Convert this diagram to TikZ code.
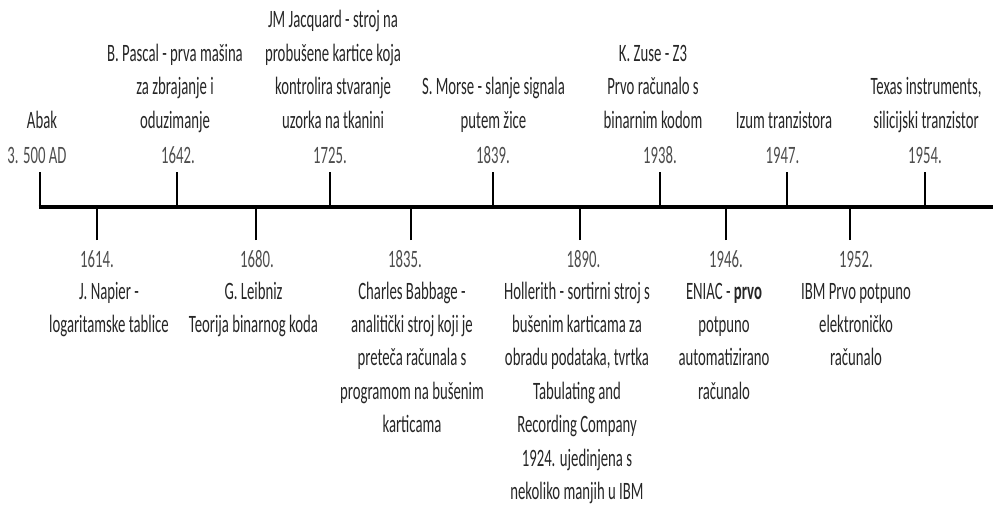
\documentclass[tikz,border=0pt]{standalone}
\usepackage{fontspec}
\setmainfont{Carlito}[FakeStretch=0.59]
\definecolor{txt}{HTML}{262626}
\definecolor{yr}{HTML}{4D4D4D}
\begin{document}
\begin{tikzpicture}[x=1pt,y=-1pt,
  lbl/.style={font=\fontsize{25}{33.4}\selectfont, text=txt, align=center, inner sep=0pt, anchor=base},
  yearlbl/.style={lbl, text=yr},
  tickline/.style={line width=2pt},
  axisline/.style={line width=3.3pt}]
\useasboundingbox (0,0) rectangle (993,506);
% axis
\coordinate (L) at (38.5,207);
\coordinate (R) at (993,207);
\draw[axisline] (L) -- (R);
% upper events (base = baseline of last line)
\node[yearlbl] (y1) at (37,163) {3. 500 AD};
\node[lbl] (e1) at (42,128) {Abak};
\node[yearlbl] (y2) at (178,163) {1642.};
\node[lbl] (e2) at (175,128) {B. Pascal - prva mašina\\za zbrajanje i\\oduzimanje};
\node[yearlbl] (y3) at (330,163) {1725.};
\node[lbl] (e3) at (333,128) {JM Jacquard - stroj na\\probušene kartice koja\\kontrolira stvaranje\\uzorka na tkanini};
\node[yearlbl] (y4) at (493,163) {1839.};
\node[lbl] (e4) at (493.5,128) {S. Morse - slanje signala\\putem žice};
\node[yearlbl] (y5) at (660,163) {1938.};
\node[lbl] (e5) at (653,128) {K. Zuse - Z3\\Prvo računalo s\\binarnim kodom};
\node[yearlbl] (y6) at (782.5,163) {1947.};
\node[lbl] (e6) at (784,128) {Izum tranzistora};
\node[yearlbl] (y7) at (925,163) {1954.};
\node[lbl] (e7) at (926,128) {Texas instruments,\\silicijski tranzistor};
% upper ticks
\foreach \i/\x in {1/40,2/177,3/330,4/493,5/660,6/787,7/925}{
  \coordinate (u\i) at (\x,172);
  \draw[tickline] (u\i) -- (u\i |- L);
}
% lower events (base = baseline of last line)
\node[yearlbl] (z1) at (97,267) {1614.};
\node[lbl] (f1) at (109,332.4) {J. Napier -\\logaritamske tablice};
\node[yearlbl] (z2) at (257,267) {1680.};
\node[lbl] (f2) at (253.5,332.4) {G. Leibniz\\Teorija binarnog koda};
\node[yearlbl] (z3) at (405,267) {1835.};
\node[lbl] (f3) at (412,432.6) {Charles Babbage -\\analitički stroj koji je\\preteča računala s\\programom na bušenim\\karticama};
\node[yearlbl] (z4) at (583.5,267) {1890.};
\node[lbl] (f4) at (577,499.4) {Hollerith - sortirni stroj s\\bušenim karticama za\\obradu podataka, tvrtka\\Tabulating and\\Recording Company\\1924. ujedinjena s\\nekoliko manjih u IBM};
\node[yearlbl] (z5) at (726,267) {1946.};
\node[lbl] (f5) at (724,399.2) {ENIAC - \textbf{prvo}\\potpuno\\automatizirano\\računalo};
\node[yearlbl] (z6) at (856,267) {1952.};
\node[lbl] (f6) at (856,365.8) {IBM Prvo potpuno\\elektroničko\\računalo};
% lower ticks
\foreach \i/\x in {1/97,2/256,3/411,4/580,5/726,6/850}{
  \coordinate (d\i) at (\x,240);
  \draw[tickline] (d\i) -- (d\i |- L);
}
\end{tikzpicture}
\end{document}
